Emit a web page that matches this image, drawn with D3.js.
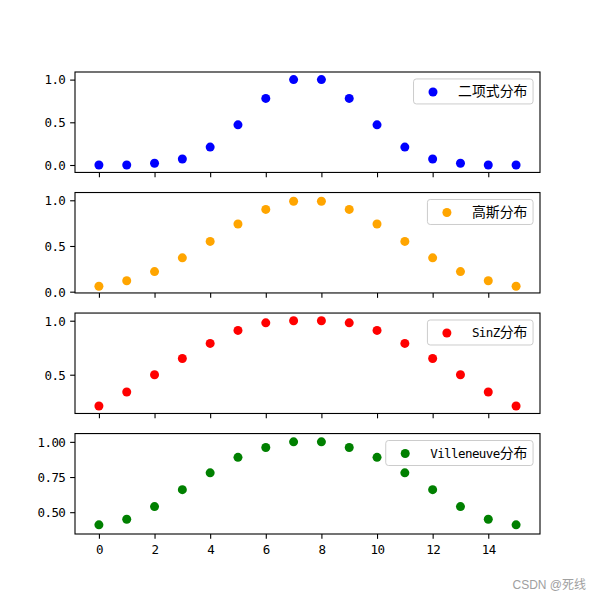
<!DOCTYPE html>
<html><head><meta charset="utf-8">
<script src="https://cdn.jsdelivr.net/npm/d3@7"></script>
<style>body{margin:0;background:#fff}svg{display:block}</style>
</head><body><svg id="c" width="600" height="600"></svg>
<script>
// ---- data ----
const xValues = [0,1,2,3,4,5,6,7,8,9,10,11,12,13,14,15];
const binomialValues = [0.00,0.00,0.02,0.07,0.21,0.47,0.78,1.00,1.00,0.78,0.47,0.21,0.07,0.02,0.00,0.00];
const gaussValues = [0.06,0.12,0.22,0.37,0.55,0.74,0.90,0.99,0.99,0.90,0.74,0.55,0.37,0.22,0.12,0.06];
const sinzValues = [0.21,0.34,0.50,0.65,0.79,0.91,0.98,1.00,1.00,0.98,0.91,0.79,0.65,0.50,0.34,0.21];
const villeneuveValues = [0.41,0.45,0.54,0.66,0.78,0.89,0.96,1.00,1.00,0.96,0.89,0.78,0.66,0.54,0.45,0.41];
const seriesNames = ["二项式分布","高斯分布","SinZ分布","Villeneuve分布"];
const seriesColors = ["#0000ff","#ffa500","#ff0000","#008000"];
const yTickValues = [[0,0.5,1],[0,0.5,1],[0.5,1],[0.5,0.75,1]];
const yTickFormats = [".1f",".1f",".1f",".2f"];
const xTickValues = [0,2,4,6,8,10,12,14];
const watermark = "CSDN @死线";

const allSeries = [binomialValues, gaussValues, sinzValues, villeneuveValues];
const yDomains = [[-0.087,1.089],[-0.014,1.085],[0.141,1.071],[0.345,1.059]];

// ---- layout ----
const svg = d3.select("#c");
const L = 75, R = 540, T = 72, B = 534;
const nRows = 4, hs = 0.2;
const h = (B - T) / (nRows + (nRows - 1) * hs);
const gap = h * hs;
const FS = 13.9;
const latinFont = "'DejaVu Sans Mono', 'Liberation Mono', monospace";
const latinSize = 12.5, latinSpacing = -0.58;
const cjkFont = "'Noto Sans CJK SC', 'Noto Sans', sans-serif";

const x = d3.scaleLinear().domain([-0.86, 15.86]).range([L, R]);

function addRuns(textSel, str) {
  const runs = str.match(/[\x00-\x7F]+|[^\x00-\x7F]+/g) || [];
  runs.forEach(r => {
    const ascii = /^[\x00-\x7F]+$/.test(r);
    textSel.append("tspan")
      .attr("font-family", ascii ? latinFont : cjkFont)
      .attr("font-size", ascii ? latinSize : FS)
      .attr("letter-spacing", ascii ? latinSpacing : 0)
      .text(r);
  });
}

allSeries.forEach((vals, i) => {
  const top = T + i * (h + gap);
  const bot = top + h;
  const y = d3.scaleLinear().domain(yDomains[i]).range([bot, top]);
  const g = svg.append("g");

  // points
  g.append("g").selectAll("circle").data(xValues).join("circle")
    .attr("cx", d => x(d))
    .attr("cy", (d, j) => y(vals[j]))
    .attr("r", 4.5)
    .attr("fill", seriesColors[i]);

  // y axis
  const ya = d3.axisLeft(y).tickValues(yTickValues[i]).tickFormat(d3.format(yTickFormats[i]))
    .tickSize(4.86).tickPadding(4.86);
  const yg = g.append("g").attr("transform", `translate(${L},0)`).call(ya);
  yg.select(".domain").remove();
  yg.selectAll(".tick line").attr("stroke", "#000").attr("stroke-width", 1.1);
  yg.selectAll(".tick text").attr("font-family", latinFont).attr("font-size", latinSize)
    .attr("letter-spacing", latinSpacing).attr("fill", "#000").attr("dy", "0.35em");

  // x axis
  const xa = d3.axisBottom(x).tickValues(xTickValues).tickSize(4.86).tickPadding(4.86);
  const xg = g.append("g").attr("transform", `translate(0,${bot})`).call(xa);
  xg.select(".domain").remove();
  xg.selectAll(".tick line").attr("stroke", "#000").attr("stroke-width", 1.1);
  if (i < nRows - 1) {
    xg.selectAll(".tick text").remove();
  } else {
    xg.selectAll(".tick text").attr("font-family", latinFont).attr("font-size", latinSize)
      .attr("letter-spacing", latinSpacing).attr("fill", "#000").attr("dy", "0.8em");
  }

  // frame
  g.append("rect").attr("x", L).attr("y", top).attr("width", R - L).attr("height", h)
    .attr("fill", "none").attr("stroke", "#000").attr("stroke-width", 1.1);

  // legend
  const lg = g.append("g");
  const box = lg.append("rect");
  const txt = lg.append("text").attr("fill", "#000");
  addRuns(txt, seriesNames[i]);
  const tw = txt.node().getComputedTextLength();
  const pad = 0.4 * FS, handleLen = 2.0 * FS, textPad = 0.8 * FS, axPad = 0.5 * FS;
  const bw = pad + handleLen + textPad + tw + pad;
  const bh = 25;
  const bx = R - axPad - bw, by = top + axPad;
  box.attr("x", bx).attr("y", by).attr("width", bw).attr("height", bh)
    .attr("rx", 2.8).attr("fill", "#fff").attr("fill-opacity", 0.8)
    .attr("stroke", "#cccccc").attr("stroke-width", 1);
  lg.append("circle").attr("cx", bx + pad + handleLen / 2).attr("cy", by + bh / 2 + 0.5)
    .attr("r", 4.5).attr("fill", seriesColors[i]);
  txt.attr("x", bx + pad + handleLen + textPad).attr("y", by + bh / 2 + 5);
});

svg.append("text").attr("x", 586).attr("y", 589).attr("text-anchor", "end")
  .attr("font-family", "'Liberation Sans', 'Noto Sans CJK SC', sans-serif")
  .attr("font-size", 12).attr("fill", "#a0a0a0").text(watermark);
</script>
</body></html>
